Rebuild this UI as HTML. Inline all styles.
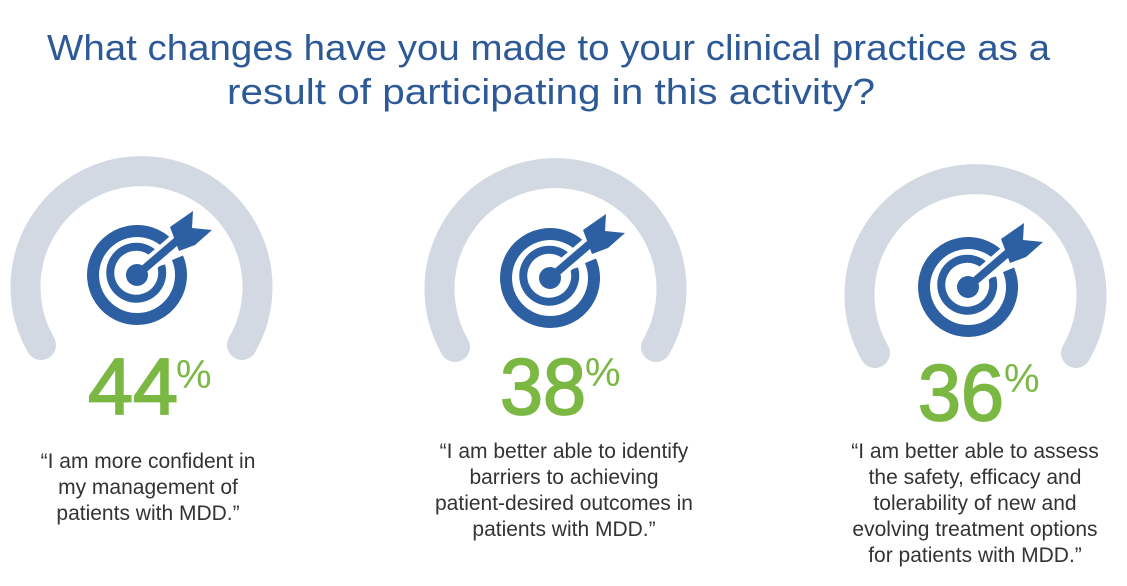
<!DOCTYPE html>
<html><head><meta charset="utf-8"><style>
html,body{margin:0;padding:0;background:#fff;}
svg{display:block;}
.t{font-family:"Liberation Sans",sans-serif;fill:#2d5a97;font-size:36px;}
.q{font-family:"Liberation Sans",sans-serif;fill:#333;font-size:21px;text-anchor:middle;}
.n{font-family:"Liberation Sans",sans-serif;fill:#7bb843;stroke:#7bb843;stroke-width:1.8;font-size:80px;}
.p{font-family:"Liberation Sans",sans-serif;fill:#7bb843;font-size:40px;}
</style></head><body>
<svg width="1127" height="586" viewBox="0 0 1127 586" xmlns="http://www.w3.org/2000/svg">
<defs>
<g id="tg">
  <path d="M 30.9 -31.3 A 44 44 0 1 0 40.5 -17.2" fill="none" stroke="#2d5fa3" stroke-width="12"/>
  <path d="M 18.5 -19.7 A 26 26 0 1 0 24.2 -9.5" fill="none" stroke="#2d5fa3" stroke-width="8"/>
  <line x1="0" y1="0" x2="42" y2="-36" stroke="#fff" stroke-width="16"/>
  <circle r="11" fill="#2d5fa3"/>
  <line x1="0" y1="0" x2="42" y2="-36" stroke="#2d5fa3" stroke-width="8" stroke-linecap="round"/>
  <polygon points="33,-48 56,-64 55,-47 75,-45 58,-30 42,-24" fill="#2d5fa3"/>
</g>
</defs>
<text class="t" x="47" y="60" textLength="1003" lengthAdjust="spacingAndGlyphs">What changes have you made to your clinical practice as a</text>
<text class="t" x="227" y="104" textLength="648" lengthAdjust="spacingAndGlyphs">result of participating in this activity?</text>

<g fill="none" stroke="#d2d9e3" stroke-width="30" stroke-linecap="round">
<path d="M 41 345 A 116 116 0 1 1 242 345"/>
<path d="M 455 347 A 116 116 0 1 1 656 347"/>
<path d="M 875 353 A 116 116 0 1 1 1076 353"/>
</g>
<use href="#tg" x="137" y="275"/>
<use href="#tg" x="550" y="278"/>
<use href="#tg" x="968" y="287"/>

<text class="n" x="88" y="414" textLength="90" lengthAdjust="spacingAndGlyphs">44</text><text class="p" x="176" y="388">%</text>
<text class="n" x="500" y="414" textLength="86" lengthAdjust="spacingAndGlyphs">38</text><text class="p" x="585" y="386">%</text>
<text class="n" x="918" y="420" textLength="86" lengthAdjust="spacingAndGlyphs">36</text><text class="p" x="1004" y="392">%</text>

<text class="q"><tspan x="148" y="468">“I am more confident in</tspan><tspan x="148" y="494">my management of</tspan><tspan x="148" y="520">patients with MDD.”</tspan></text>
<text class="q"><tspan x="564" y="458">“I am better able to identify</tspan><tspan x="564" y="484">barriers to achieving</tspan><tspan x="564" y="510">patient-desired outcomes in</tspan><tspan x="564" y="536">patients with MDD.”</tspan></text>
<text class="q"><tspan x="975" y="458">“I am better able to assess</tspan><tspan x="975" y="484">the safety, efficacy and</tspan><tspan x="975" y="510">tolerability of new and</tspan><tspan x="975" y="536">evolving treatment options</tspan><tspan x="975" y="562">for patients with MDD.”</tspan></text>
</svg>
</body></html>
